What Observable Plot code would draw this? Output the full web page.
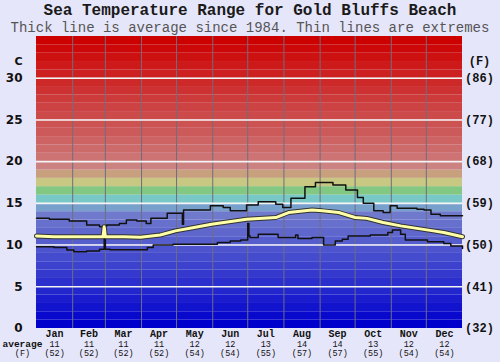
<!DOCTYPE html>
<html>
<head>
<meta charset="utf-8">
<script src="https://cdn.jsdelivr.net/npm/d3@7"></script>
<script src="https://cdn.jsdelivr.net/npm/@observablehq/plot@0.6"></script>
<style>
  html, body { margin: 0; padding: 0; background: #e6e6fa; }
  #wrap { position: relative; width: 500px; height: 362px; overflow: hidden; }
  #title { position: absolute; left: 0; width: 500px; top: 4.25px; height: 14px; text-align: center;
    font: bold 16px/14px "Liberation Mono", "DejaVu Sans Mono", monospace; color: #1a1a1a; white-space: nowrap; }
  #subtitle { position: absolute; left: 0; width: 500px; top: 21.75px; height: 12px; text-align: center;
    font: 14px/12px "Liberation Mono", "DejaVu Sans Mono", monospace; color: #555; white-space: nowrap; }
  #chart { position: absolute; left: 0; top: 34px; }
</style>
</head>
<body>
<div id="wrap">
  <div id="title">Sea Temperature Range for Gold Bluffs Beach</div>
  <div id="subtitle">Thick line is average since 1984. Thin lines are extremes</div>
  <div id="chart"></div>
</div>
<script>
// ---- data (day of year, °C) ----
const months = ["Jan","Feb","Mar","Apr","May","Jun","Jul","Aug","Sep","Oct","Nov","Dec"];
const monthAvgC = ["11","11","11","11","12","12","13","14","14","13","12","12"];
const monthAvgF = ["(52)","(52)","(52)","(52)","(54)","(54)","(55)","(57)","(57)","(55)","(54)","(54)"];
const monthStarts = [0,31,59,90,120,151,181,212,243,273,304,334,365];
const yTicks = [0,5,10,15,20,25,30];
const fLabels = ["(32)","(41)","(50)","(59)","(68)","(77)","(86)"];

const avgDay  = [0, 15, 29, 45, 57, 58, 59, 75, 89, 106, 119, 135, 150, 165, 180, 205, 216, 236, 245, 259, 273, 283, 297, 312, 326, 340, 349, 365];
const avgTemp = [11.1, 11.0, 11.0, 11.0, 11.0, 12.2, 11.0, 11.0, 10.95, 11.2, 11.7, 12.1, 12.5, 12.8, 13.1, 13.3, 13.9, 14.2, 14.1, 13.9, 13.3, 13.2, 12.7, 12.3, 12.0, 11.7, 11.5, 11.0];

const maxDay  = [0, 11, 28, 43, 54, 60, 71, 77, 86, 94, 98, 112, 125, 126, 149, 160, 166, 180, 190, 205, 211, 218, 230, 239, 254, 265, 275, 280, 289, 297, 303, 309, 326, 332, 338, 346, 365];
const maxTemp = [13.2, 13.1, 12.9, 12.4, 12.2, 12.4, 12.6, 13.0, 12.9, 12.6, 13.2, 13.8, 12.5, 14.2, 14.7, 14.5, 14.1, 14.8, 15.2, 14.9, 14.5, 15.6, 17.0, 17.5, 17.2, 16.6, 15.7, 15.0, 14.1, 13.9, 14.7, 14.4, 14.3, 14.2, 13.7, 13.5, 13.5];

const minDay  = [0, 15, 26, 32, 43, 54, 58, 59, 63, 95, 100, 117, 155, 166, 175, 181, 182, 183, 190, 207, 222, 224, 236, 246, 256, 262, 267, 286, 301, 305, 312, 316, 335, 349, 355, 365];
const minTemp = [9.8, 9.7, 9.4, 9.2, 9.3, 9.5, 11.1, 9.5, 9.45, 9.7, 10.0, 10.1, 10.3, 10.5, 10.6, 12.6, 11.1, 10.9, 11.3, 10.9, 11.2, 10.8, 10.9, 10.0, 10.5, 10.7, 11.1, 11.2, 11.5, 11.8, 11.3, 10.6, 10.4, 10.2, 9.9, 9.6];

// ---- build tables ----
const toRows = (days, temps) => days.map((d, i) => ({day: d, t: temps[i]}));
const avgRows = toRows(avgDay, avgTemp);
const maxRows = toRows(maxDay, maxTemp);
const minRows = toRows(minDay, minTemp);

// background colour bands, 1 °C each
function bandColor(i) {
  const lerp = (a, b, f) => a.map((v, k) => Math.round(v + (b[k] - v) * f));
  let c;
  if (i <= 13) c = lerp([0,0,205], [112,122,205], i / 13);
  else if (i === 14) c = [120,160,205];
  else if (i === 15) c = [120,200,200];
  else if (i === 16) c = [130,200,130];
  else if (i === 17) c = [200,200,130];
  else if (i === 18) c = [200,160,125];
  else if (i === 19) c = [205,130,130];
  else c = lerp([205,115,115], [205,0,0], (i - 20) / 14);
  return `rgb(${c[0]},${c[1]},${c[2]})`;
}
const bands = d3.range(35).map(i => ({lo: i, hi: i + 1, color: bandColor(i)}));

const mono = "Liberation Mono, DejaVu Sans Mono, monospace";
const monthMid = (d, i) => (monthStarts[i] + monthStarts[i + 1]) / 2;

const chart = Plot.plot({
  width: 500,
  height: 328,
  marginTop: 2,
  marginLeft: 36,
  marginRight: 38,
  marginBottom: 34,
  x: {domain: [0, 365], axis: null},
  y: {domain: [0, 35], axis: null},
  style: {background: "transparent", overflow: "visible"},
  marks: [
    Plot.rect(bands, {x1: () => 0, x2: () => 365, y1: "lo", y2: "hi", fill: "color"}),
    Plot.ruleX(monthStarts.slice(1, -1), {stroke: "#6e6e80", strokeWidth: 1}),
    Plot.ruleY(yTicks.slice(1), {stroke: "#f4f4f4", strokeWidth: 1.6}),
    Plot.line(maxRows, {x: "day", y: "t", curve: "step-after", stroke: "#111", strokeWidth: 1.5}),
    Plot.line(minRows, {x: "day", y: "t", curve: "step-after", stroke: "#111", strokeWidth: 1.5}),
    Plot.line(avgRows, {x: "day", y: "t", stroke: "#333", strokeWidth: 5}),
    Plot.line(avgRows, {x: "day", y: "t", stroke: "#ffffa8", strokeWidth: 3}),
    // left axis (C)
    Plot.text(yTicks, {y: d => d, text: d => String(d), frameAnchor: "left", dx: -14, textAnchor: "end",
      fontFamily: "DejaVu Sans, sans-serif", fontSize: 12, fontWeight: "bold", fill: "#111"}),
    Plot.text(["C"], {y: () => 32, text: d => d, frameAnchor: "left", dx: -14, textAnchor: "end",
      fontFamily: "DejaVu Sans, sans-serif", fontSize: 11, fontWeight: "bold", fill: "#111"}),
    // right axis (F)
    Plot.text(fLabels, {y: (d, i) => yTicks[i], text: d => d, frameAnchor: "right", dx: 17, textAnchor: "middle",
      fontFamily: mono, fontSize: 12, fontWeight: "bold", fill: "#111"}),
    Plot.text(["(F)"], {y: () => 32, text: d => d, frameAnchor: "right", dx: 17, textAnchor: "middle",
      fontFamily: mono, fontSize: 12, fontWeight: "bold", fill: "#111"}),
    // bottom labels (baselines)
    Plot.text(months, {x: monthMid, text: d => d, frameAnchor: "bottom", lineAnchor: "bottom", dy: 8.5,
      fontFamily: mono, fontSize: 10, fontWeight: "bold", fill: "#111"}),
    Plot.text(monthAvgC, {x: monthMid, text: d => d, frameAnchor: "bottom", lineAnchor: "bottom", dy: 18,
      fontFamily: mono, fontSize: 8.5, fill: "#111"}),
    Plot.text(monthAvgF, {x: monthMid, text: d => d, frameAnchor: "bottom", lineAnchor: "bottom", dy: 27.5,
      fontFamily: mono, fontSize: 8.5, fill: "#111"}),
    Plot.text(["average"], {text: d => d, frameAnchor: "bottom-left", lineAnchor: "bottom", dx: -34, dy: 18, textAnchor: "start",
      fontFamily: mono, fontSize: 9.5, fontWeight: "bold", fill: "#111"}),
    Plot.text(["(F)"], {text: d => d, frameAnchor: "bottom-left", lineAnchor: "bottom", dx: -14, dy: 27.5, textAnchor: "middle",
      fontFamily: mono, fontSize: 8.5, fill: "#111"})
  ]
});
document.getElementById("chart").appendChild(chart);
</script>
</body>
</html>
